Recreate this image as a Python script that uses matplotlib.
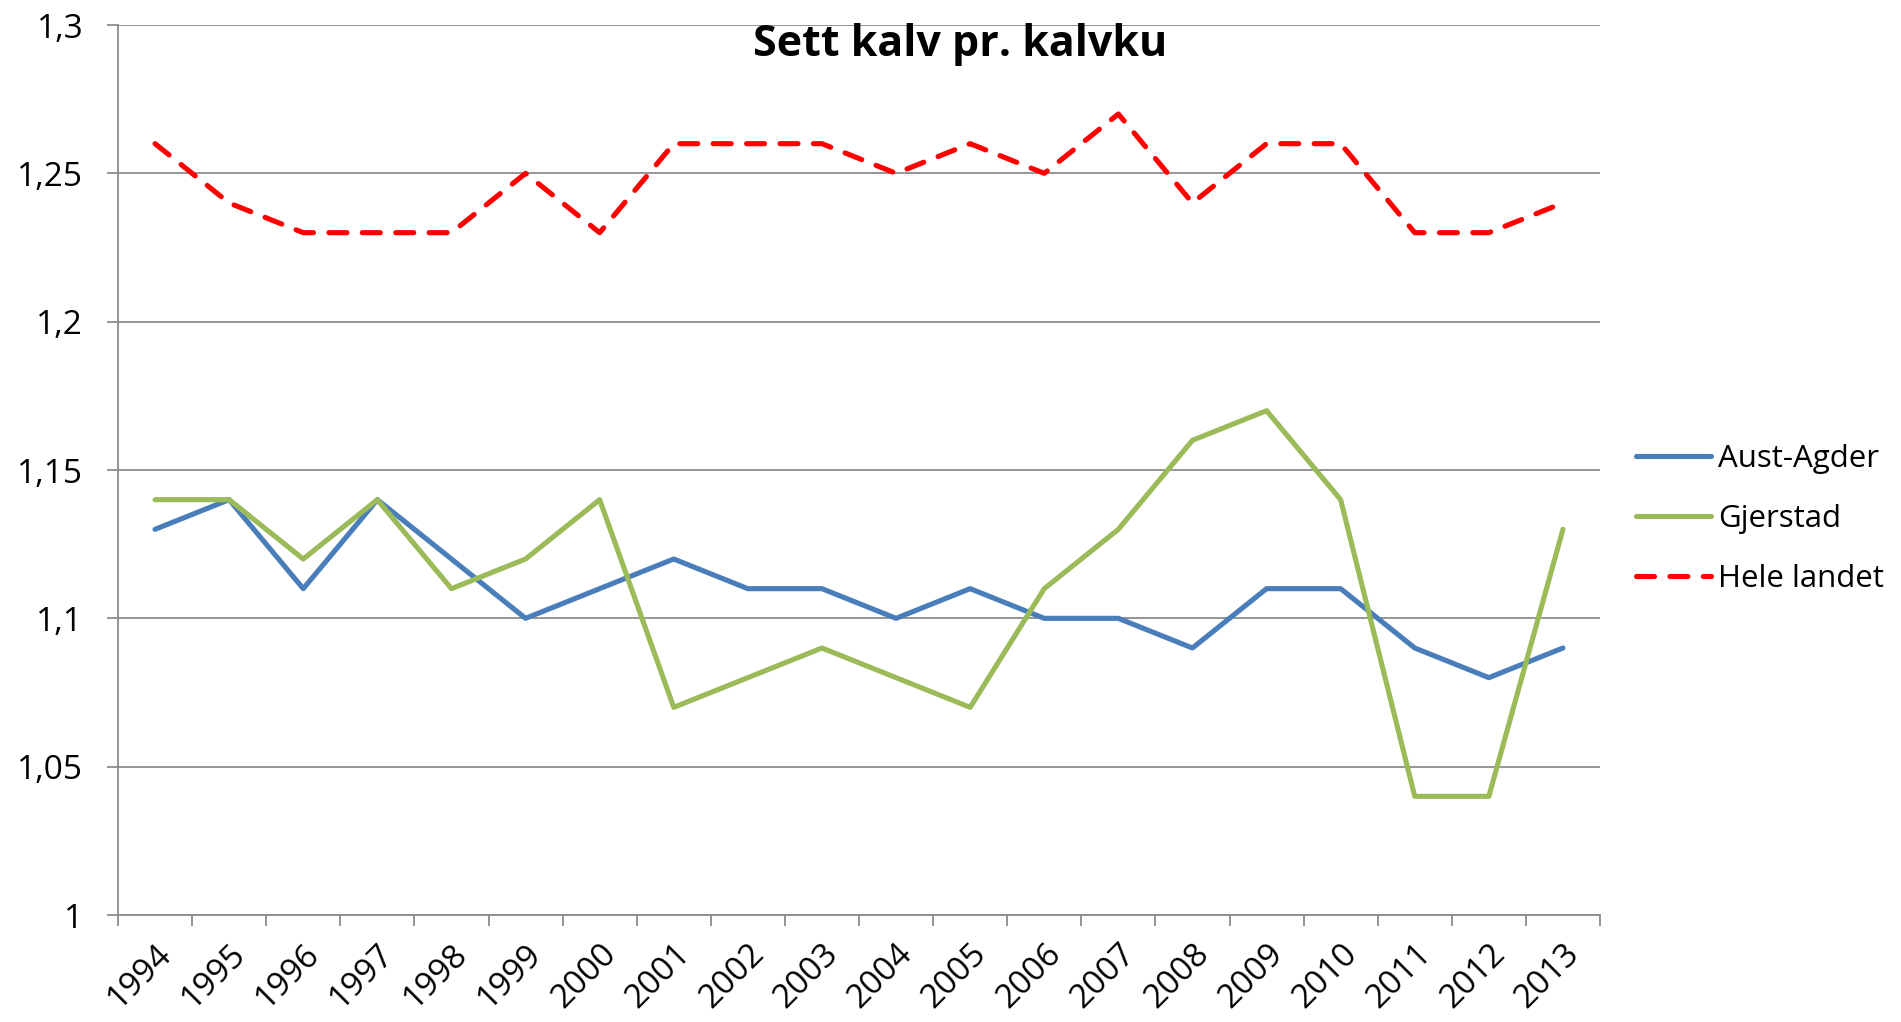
import matplotlib
matplotlib.use("Agg")
import matplotlib.pyplot as plt
from matplotlib.ticker import FuncFormatter, MultipleLocator, FixedLocator

YEARS = [str(y) for y in range(1994, 2014)]
AUST_AGDER = [1.13, 1.14, 1.11, 1.14, 1.12, 1.10, 1.11, 1.12, 1.11, 1.11,
              1.10, 1.11, 1.10, 1.10, 1.09, 1.11, 1.11, 1.09, 1.08, 1.09]
GJERSTAD = [1.14, 1.14, 1.12, 1.14, 1.11, 1.12, 1.14, 1.07, 1.08, 1.09,
            1.08, 1.07, 1.11, 1.13, 1.16, 1.17, 1.14, 1.04, 1.04, 1.13]
HELE_LANDET = [1.26, 1.24, 1.23, 1.23, 1.23, 1.25, 1.23, 1.26, 1.26, 1.26,
               1.25, 1.26, 1.25, 1.27, 1.24, 1.26, 1.26, 1.23, 1.23, 1.24]

plt.rcParams["font.family"] = ["Open Sans", "DejaVu Sans"]

fig = plt.figure(figsize=(19.01, 10.22), dpi=100)
ax = fig.add_axes([118 / 1901, 1 - 915 / 1022, (1600 - 118) / 1901, (915 - 25) / 1022])

x = list(range(len(YEARS)))
ax.plot(x, AUST_AGDER, color="#4a7ebb", linewidth=3.7, label="Aust-Agder",
        solid_joinstyle="round", solid_capstyle="round")
ax.plot(x, GJERSTAD, color="#9bbb59", linewidth=3.7, label="Gjerstad",
        solid_joinstyle="round", solid_capstyle="round")
ax.plot(x, HELE_LANDET, color="#ff0000", linewidth=3.7, label="Hele landet",
        linestyle=(0, (3.5, 3.0)), dash_capstyle="round")

ax.set_xlim(-0.5, len(YEARS) - 0.5)
ax.set_ylim(1.0, 1.3)
ax.yaxis.set_major_locator(MultipleLocator(0.05))
ax.yaxis.set_major_formatter(FuncFormatter(lambda v, p: f"{v:.2f}".rstrip("0").rstrip(".").replace(".", ",")))
ax.grid(axis="y", color="#8c8c8c", linewidth=1.3)
ax.set_axisbelow(True)

ax.set_xticks(x)
ax.set_xticklabels(YEARS, rotation=45, ha="right", rotation_mode="anchor", fontsize=24)
ax.xaxis.set_minor_locator(FixedLocator([i - 0.5 for i in range(len(YEARS) + 1)]))
ax.tick_params(axis="x", which="major", length=0, pad=16)
ax.tick_params(axis="x", which="minor", length=8, color="#8c8c8c", width=1.3)
ax.tick_params(axis="y", length=8, color="#8c8c8c", width=1.3, labelsize=24, pad=17)

for s in ["top", "right"]:
    ax.spines[s].set_visible(False)
for s in ["left", "bottom"]:
    ax.spines[s].set_color("#8c8c8c")
    ax.spines[s].set_linewidth(1.3)

fig.text(960 / 1901, 1 - 45 / 1022, "Sett kalv pr. kalvku", fontsize=31,
         fontweight="bold", ha="center", va="center")

ax.legend(loc="center left", bbox_to_anchor=(1.005, 0.445), frameon=False,
          fontsize=22.5, handlelength=2.4, labelspacing=0.95, handletextpad=0.25)

fig.savefig("out.png", dpi=100)
